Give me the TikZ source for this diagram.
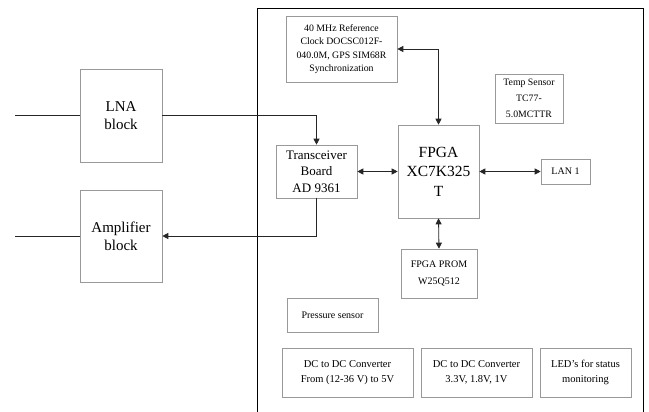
\documentclass[tikz,border=0pt]{standalone}
\usepackage{fontspec}
\setmainfont{Liberation Serif}
\usetikzlibrary{arrows.meta}
\begin{document}
\begin{tikzpicture}[x=1pt,y=-1pt,
  blk/.style={draw=black!40, line width=0.6pt, inner sep=0pt, align=center, fill=white},
  conn/.style={draw=black!85, line width=0.8pt},
  arr/.style={conn, -{Triangle[length=6pt,width=6pt]}},
  darr/.style={conn, {Triangle[length=6pt,width=6pt]}-{Triangle[length=6pt,width=6pt]}}]
\useasboundingbox (0,0) rectangle (649,412);
\draw[line width=0.8pt] (257,8) -- (643,8) (257,8) -- (257,420) (643,8) -- (643,420);

\node[blk, minimum width=111pt, minimum height=66pt, font=\fontsize{9.8}{13.3}\selectfont] (clock) at (341.5,49) {40 MHz Reference\\Clock DOCSC012F-\\040.0M, GPS SIM68R\\Synchronization};
\node[blk, minimum width=68pt, minimum height=49pt, font=\fontsize{9.8}{16}\selectfont] (temp) at (529,98.5) {Temp Sensor\\TC77-\\5.0MCTTR};
\node[blk, minimum width=82pt, minimum height=93pt, font=\fontsize{15}{18}\selectfont] (lna) at (121,115.5) {LNA\\block};
\node[blk, minimum width=82pt, minimum height=92pt, font=\fontsize{15}{18}\selectfont] (amp) at (121,236) {Amplifier\\block};
\node[blk, minimum width=81pt, minimum height=53pt, font=\fontsize{13}{16.5}\selectfont] (trx) at (316.5,171.5) {Transceiver\\Board\\AD 9361};
\node[blk, minimum width=81pt, minimum height=93pt, font=\fontsize{15.5}{19.5}\selectfont] (fpga) at (438.5,171.5) {FPGA\\XC7K325\\T};
\node[blk, minimum width=49pt, minimum height=25pt, font=\fontsize{10}{12}\selectfont] (lan) at (565.5,171.5) {LAN 1};
\node[blk, minimum width=76pt, minimum height=49pt, font=\fontsize{10}{17}\selectfont] (prom) at (439,273.5) {FPGA PROM\\W25Q512};
\node[blk, minimum width=91pt, minimum height=34pt, font=\fontsize{10}{12}\selectfont] (press) at (332.5,315) {Pressure sensor};
\node[blk, minimum width=131pt, minimum height=49pt, font=\fontsize{10.5}{14.5}\selectfont] (dc1) at (347.5,372.5) {DC to DC Converter\\From (12-36 V) to 5V};
\node[blk, minimum width=111pt, minimum height=49pt, font=\fontsize{10.5}{14.5}\selectfont] (dc2) at (476.5,372.5) {DC to DC Converter\\3.3V, 1.8V, 1V};
\node[blk, minimum width=91pt, minimum height=49pt, font=\fontsize{10.5}{14.5}\selectfont] (led) at (585.5,372.5) {LED's for status\\monitoring};

\coordinate (inL) at (15,115.5);
\coordinate (outL) at (15,236);
\draw[conn] (inL) -- (lna.west);
\draw[conn] (outL) -- (amp.west);
\draw[arr] (lna.east) -| (trx.north);
\draw[arr] (trx.south) |- (amp.east);
\draw[darr] (clock.east) -| (fpga.north);
\draw[darr] (trx.east) -- (fpga.west);
\draw[darr] (fpga.east) -- (lan.west);
\draw[darr] (fpga.south) -- (prom.north);
\end{tikzpicture}
\end{document}
